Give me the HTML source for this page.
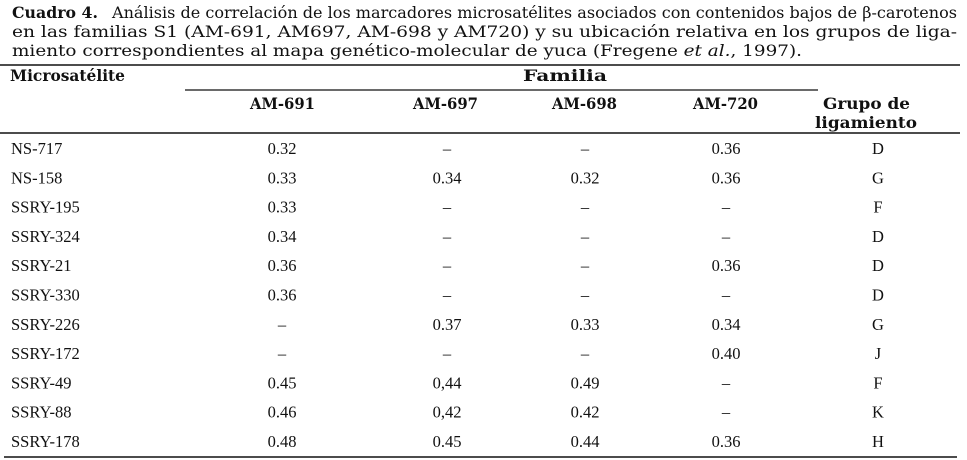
<!DOCTYPE html>
<html><head><meta charset="utf-8"><style>
html,body{margin:0;padding:0;background:#fff;}
svg{display:block;font-family:"Liberation Serif",serif;fill:#111;}
.h{font-family:"DejaVu Serif","Liberation Serif",serif;font-weight:bold;}
.t{font-family:"DejaVu Serif","Liberation Serif",serif;}
</style></head><body>
<svg width="967" height="460" viewBox="0 0 967 460" xmlns="http://www.w3.org/2000/svg">
<g font-size="16">
<text x="12" y="18" class="h" textLength="86" lengthAdjust="spacingAndGlyphs">Cuadro 4.</text>
<text x="112" y="18" class="t" textLength="845" lengthAdjust="spacingAndGlyphs">Análisis de correlación de  los marcadores microsatélites asociados con contenidos bajos de β-carotenos</text>
<text x="12" y="37" class="t" textLength="945" lengthAdjust="spacingAndGlyphs">en las familias S1 (AM-691, AM697, AM-698 y AM720) y su ubicación relativa en los grupos de liga-</text>
<text x="12" y="56" class="t" textLength="790" lengthAdjust="spacingAndGlyphs">miento correspondientes al mapa genético-molecular de yuca (Fregene <tspan font-style="italic">et al.</tspan>, 1997).</text>
</g>
<line x1="0" y1="65" x2="960" y2="65" stroke="#111" stroke-width="1.6"/>
<line x1="185" y1="90" x2="818" y2="90" stroke="#111" stroke-width="1.3"/>
<line x1="0" y1="133" x2="960" y2="133" stroke="#111" stroke-width="1.6"/>
<line x1="4" y1="457" x2="957" y2="457" stroke="#111" stroke-width="1.6"/>
<g font-size="15.5" class="h">
<text x="10" y="81" textLength="115" lengthAdjust="spacingAndGlyphs">Microsatélite</text>
<text x="523" y="81" textLength="84" lengthAdjust="spacingAndGlyphs">Familia</text>
<text x="250" y="109" textLength="65" lengthAdjust="spacingAndGlyphs">AM-691</text>
<text x="413" y="109" textLength="65" lengthAdjust="spacingAndGlyphs">AM-697</text>
<text x="552" y="109" textLength="65" lengthAdjust="spacingAndGlyphs">AM-698</text>
<text x="693" y="109" textLength="65" lengthAdjust="spacingAndGlyphs">AM-720</text>
<text x="823" y="109" textLength="87" lengthAdjust="spacingAndGlyphs">Grupo de</text>
<text x="815" y="128" textLength="102" lengthAdjust="spacingAndGlyphs">ligamiento</text>
</g>
<g font-size="16.5" id="rows"></g>
</svg>
<script>
var d=[["NS-717","0.32","–","–","0.36","D"],["NS-158","0.33","0.34","0.32","0.36","G"],["SSRY-195","0.33","–","–","–","F"],["SSRY-324","0.34","–","–","–","D"],["SSRY-21","0.36","–","–","0.36","D"],["SSRY-330","0.36","–","–","–","D"],["SSRY-226","–","0.37","0.33","0.34","G"],["SSRY-172","–","–","–","0.40","J"],["SSRY-49","0.45","0,44","0.49","–","F"],["SSRY-88","0.46","0,42","0.42","–","K"],["SSRY-178","0.48","0.45","0.44","0.36","H"]];
var xs=[282,447,585,726,878],g=document.getElementById('rows'),ns="http://www.w3.org/2000/svg";
d.forEach(function(r,i){var y=154+i*29.3;
var t=document.createElementNS(ns,'text');t.setAttribute('x',11);t.setAttribute('y',y);t.textContent=r[0];g.appendChild(t);
for(var j=1;j<6;j++){t=document.createElementNS(ns,'text');t.setAttribute('x',xs[j-1]);t.setAttribute('y',y);t.setAttribute('text-anchor','middle');t.textContent=r[j];g.appendChild(t);}});
</script>
</body></html>
